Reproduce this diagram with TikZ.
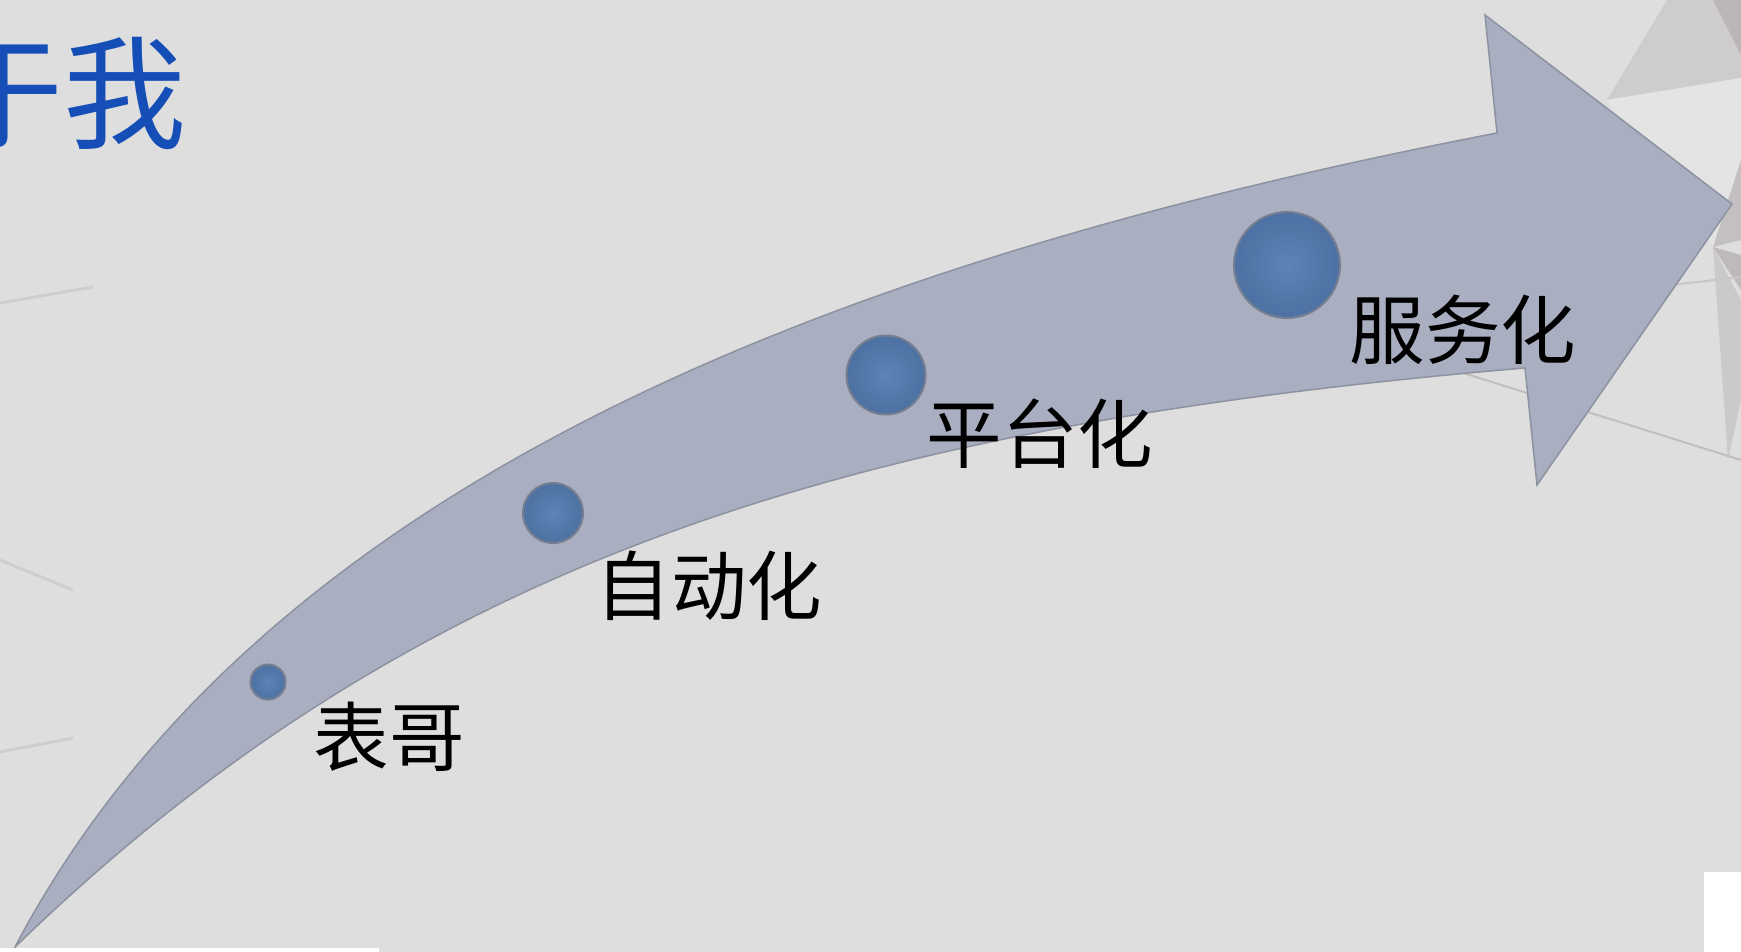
\documentclass[tikz,border=0pt]{standalone}
\usepackage{fontspec}
\newfontfamily\cjk{Noto Sans CJK SC}
\definecolor{bg}{RGB}{222,222,222}
\definecolor{arrowfill}{RGB}{169,175,192}
\definecolor{arrowline}{RGB}{140,146,160}
\definecolor{dotin}{RGB}{92,132,180}
\definecolor{dotout}{RGB}{76,113,162}
\definecolor{dotline}{RGB}{118,126,145}
\definecolor{titleblue}{RGB}{20,78,182}
\definecolor{faint}{RGB}{206,206,206}
\tikzset{
  dot/.style={circle, inner sep=0pt, draw=dotline, line width=0.2mm, inner color=dotin, outer color=dotout},
  lbl/.style={font=\cjk\fontsize{21.5}{26}\selectfont, inner sep=0pt, text=black},
  ttl/.style={font=\cjk\fontsize{35}{42}\selectfont, inner sep=0pt, text=titleblue},
  deco/.style={draw=none},
  faintline/.style={draw=faint, line width=0.3mm},
}
\begin{document}
\begin{tikzpicture}[x=0.1mm,y=-0.1mm]
\useasboundingbox (0,0) rectangle (1741,952);
\fill[bg] (0,0) rectangle (1741,952);
% background decorations (right)
\fill[deco, fill={rgb,255:red,206;green,204;blue,204}] (1607,100) -- (1667,0) -- (1741,0) -- (1741,78) -- cycle;
\fill[deco, fill={rgb,255:red,188;green,181;blue,183}] (1713,0) -- (1741,0) -- (1741,55) -- cycle;
\fill[deco, fill={rgb,255:red,228;green,228;blue,228}] (1607,100) -- (1741,78) -- (1741,160) -- (1713,247) -- cycle;
\fill[deco, fill={rgb,255:red,196;green,192;blue,193}] (1713,247) -- (1741,160) -- (1741,240) -- cycle;
\fill[deco, fill={rgb,255:red,190;green,185;blue,186}] (1713,247) -- (1741,255) -- (1741,290) -- cycle;
\fill[deco, fill={rgb,255:red,204;green,201;blue,201}] (1713,247) -- (1741,300) -- (1741,400) -- (1728,460) -- cycle;
\draw[faintline, draw={rgb,255:red,192;green,190;blue,190}, line width=0.2mm] (1460,372) -- (1741,460);
\draw[faintline, draw={rgb,255:red,200;green,198;blue,198}, line width=0.2mm] (1567,297) -- (1741,277);
% background decorations (left)
\draw[faintline] (0,303) -- (93,287);
\draw[faintline] (0,560) -- (73,590);
\draw[faintline] (0,752) -- (73,738);
% the curved arrow
\filldraw[fill=arrowfill, draw=arrowline, line width=0.15mm, line join=miter]
  (15,947) .. controls (265,472) and (860,256) .. (1497,133)
  -- (1485,15) -- (1732,204) -- (1537,485) -- (1525,368)
  .. controls (850,425) and (415,559) .. (15,947)
  -- cycle;
% white patches
\fill[white] (1704,872) rectangle (1741,952);
\fill[white] (0,948) rectangle (379,952);
% stage dots
\node[dot, minimum size=3.5mm] (d1) at (268,682) {};
\node[dot, minimum size=6.0mm] (d2) at (553,513) {};
\node[dot, minimum size=7.9mm] (d3) at (886,375) {};
\node[dot, minimum size=10.6mm] (d4) at (1287,265) {};
% labels
\node[lbl] (l1) at (389,737) {表哥};
\node[lbl] (l2) at (709,586) {自动化};
\node[lbl] (l3) at (1040,434) {平台化};
\node[lbl] (l4) at (1463,330) {服务化};
% title
\node[ttl, anchor=east] (title) at (187,93) {关于我};
\end{tikzpicture}
\end{document}
